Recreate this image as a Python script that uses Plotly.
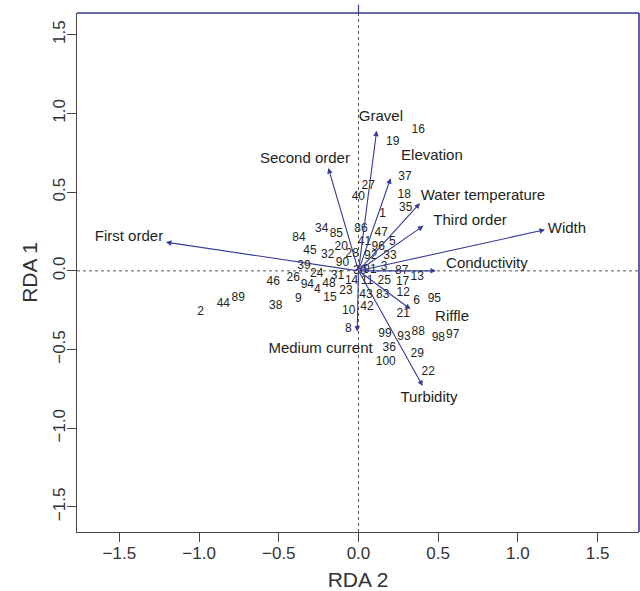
import plotly.graph_objects as go

# ---- data ----
site_ids = ["1", "2", "3", "4", "5", "6", "8", "9", "10", "11", "12", "13", "14", "15",
            "16", "17", "18", "19", "20", "21", "22", "23", "24", "25", "26", "27", "28",
            "29", "30", "31", "32", "33", "34", "35", "36", "37", "38", "39", "40", "41",
            "42", "43", "44", "45", "46", "47", "48", "83", "84", "85", "86", "87", "88",
            "89", "90", "91", "92", "93", "94", "95", "96", "97", "98", "99", "100"]
site_x = [0.152, -0.990, 0.160, -0.258, 0.212, 0.365, -0.064, -0.378, -0.061, 0.055,
          0.281, 0.369, -0.043, -0.179, 0.375, 0.277, 0.287, 0.215, -0.108, 0.281,
          0.438, -0.078, -0.262, 0.162, -0.409, 0.061, -0.039, 0.369, 0.009, -0.132,
          -0.193, 0.198, -0.231, 0.296, 0.193, 0.292, -0.519, -0.342, -0.001, 0.038,
          0.053, 0.047, -0.848, -0.304, -0.535, 0.143, -0.185, 0.152, -0.373, -0.139,
          0.016, 0.271, 0.375, -0.754, -0.100, 0.072, 0.077, 0.285, -0.321, 0.476,
          0.124, 0.591, 0.501, 0.166, 0.171]
site_y = [0.360, -0.263, 0.024, -0.121, 0.186, -0.189, -0.369, -0.178, -0.254, -0.062,
          -0.142, -0.040, -0.067, -0.170, 0.892, -0.068, 0.479, 0.818, 0.151, -0.273,
          -0.640, -0.127, -0.021, -0.062, -0.043, 0.536, 0.108, -0.528, 0.002, -0.034,
          0.102, 0.095, 0.268, 0.399, -0.493, 0.599, -0.221, 0.032, 0.469, 0.186,
          -0.231, -0.153, -0.212, 0.129, -0.068, 0.243, -0.083, -0.153, 0.208, 0.231,
          0.263, -0.004, -0.390, -0.170, 0.051, 0.006, 0.095, -0.421, -0.093, -0.180,
          0.154, -0.407, -0.428, -0.402, -0.577]

var_names = ["Gravel", "Second order", "Elevation", "Water temperature", "Third order",
             "Width", "First order", "Conductivity", "Riffle", "Medium current", "Turbidity"]
var_x = [0.114, -0.189, 0.202, 0.386, 0.407, 1.170, -1.208, 0.486, 0.327, -0.008, 0.403]
var_y = [0.890, 0.653, 0.589, 0.430, 0.286, 0.261, 0.182, 0.000, -0.243, -0.386, -0.731]
var_label_x = [0.141, -0.336, 0.461, 0.781, 0.700, 1.308, -1.440, 0.806, 0.587, -0.238, 0.442]
var_label_y = [0.973, 0.710, 0.731, 0.477, 0.313, 0.265, 0.214, 0.045, -0.294, -0.496, -0.809]

tick_vals = [-1.5, -1.0, -0.5, 0.0, 0.5, 1.0, 1.5]
tick_text = ["\u22121.5", "\u22121.0", "\u22120.5", "0.0", "0.5", "1.0", "1.5"]

NAVY = "#363b95"
INK = "#231f20"
AXC = "#454545"
FONT = "Liberation Sans, Arial, Helvetica, sans-serif"

fig = go.Figure()

# site scores as text
fig.add_trace(go.Scatter(
    x=site_x, y=site_y, mode="text", text=site_ids,
    textposition="middle center",
    textfont=dict(family=FONT, size=12, color=INK),
    hoverinfo="skip", showlegend=False))

# variable labels
fig.add_trace(go.Scatter(
    x=var_label_x, y=var_label_y, mode="text", text=var_names,
    textposition="middle center",
    textfont=dict(family=FONT, size=15, color=INK),
    hoverinfo="skip", showlegend=False))

# arrows
for vx, vy in zip(var_x, var_y):
    fig.add_annotation(x=vx, y=vy, ax=0, ay=0, xref="x", yref="y", axref="x", ayref="y",
                       showarrow=True, arrowhead=2, arrowsize=1.0, arrowwidth=1.1,
                       arrowcolor=NAVY, text="")

# dotted zero lines
fig.add_shape(type="line", xref="paper", yref="y", x0=0, x1=1, y0=0, y1=0,
              line=dict(color="#555555", width=1, dash="dot"), layer="below")
fig.add_shape(type="line", xref="x", yref="paper", x0=0, x1=0, y0=0, y1=1,
              line=dict(color="#555555", width=1, dash="dot"), layer="below")
# small tick above the top border at 0
fig.add_shape(type="line", xref="x", yref="paper", x0=0, x1=0, y0=1, y1=1.016,
              line=dict(color=NAVY, width=1.2))
# navy top and right borders
fig.add_shape(type="line", xref="paper", yref="paper", x0=0, x1=1, y0=1, y1=1,
              line=dict(color=NAVY, width=1.6))
fig.add_shape(type="line", xref="paper", yref="paper", x0=1, x1=1, y0=0, y1=1,
              line=dict(color=NAVY, width=1.6))

fig.update_layout(
    width=640, height=591,
    margin=dict(l=77, r=1, t=13, b=59, autoexpand=False),
    paper_bgcolor="white", plot_bgcolor="white",
    font=dict(family=FONT, color=INK),
    xaxis=dict(range=[-1.766, 1.760], tickvals=tick_vals, ticktext=tick_text,
               automargin=False, ticklabelstandoff=-4,
               showgrid=False, zeroline=False, showline=True, linecolor=AXC, linewidth=1.2,
               ticks="outside", ticklen=9, tickcolor=AXC, tickwidth=1.2,
               tickfont=dict(family=FONT, size=17, color="#333333"),
               title=dict(text="RDA 2", font=dict(family=FONT, size=21, color="#333333"),
                          standoff=10)),
    yaxis=dict(range=[-1.659, 1.638], tickvals=tick_vals, ticktext=tick_text,
               tickangle=-90, automargin=False, ticklabelstandoff=-5,
               showgrid=False, zeroline=False, showline=True, linecolor=AXC, linewidth=1.2,
               ticks="outside", ticklen=9, tickcolor=AXC, tickwidth=1.2,
               tickfont=dict(family=FONT, size=17, color="#333333"),
               title=dict(text="RDA 1", font=dict(family=FONT, size=21, color="#333333"),
                          standoff=6)),
)

fig.write_html("out.html", config={"displayModeBar": False},
               post_script="document.body.style.margin='0px';document.body.style.overflow='hidden';")
